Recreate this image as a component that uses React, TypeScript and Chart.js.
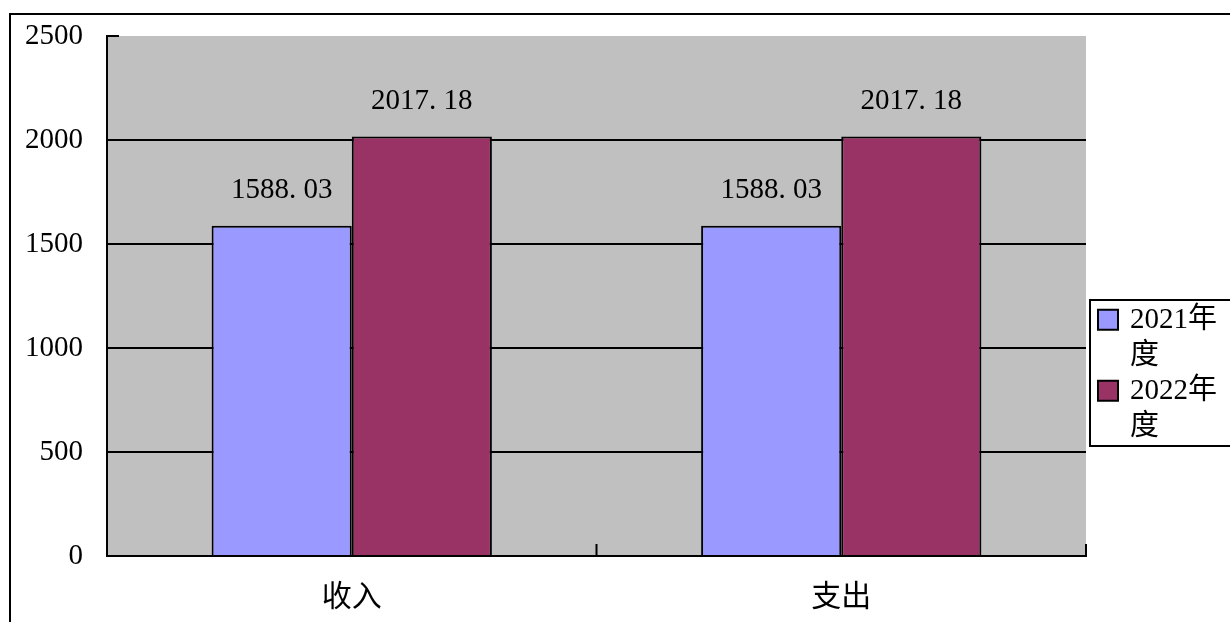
import React, { useEffect, useRef } from 'react';
import { Chart, registerables } from 'chart.js';

Chart.register(...registerables);

const categories = ['收入', '支出'];
const seriesLabels = ['2021年度', '2022年度'];
const values2021 = [1588.03, 1588.03];
const values2022 = [2017.18, 2017.18];
const yTickValues = [0, 500, 1000, 1500, 2000, 2500];
const seriesColors = ['#9999FF', '#993366'];

const FONT = '"Liberation Serif", "Noto Sans CJK SC", serif';

const framePlugin = {
  id: 'frame',
  beforeDraw(chart: any) {
    const { ctx, chartArea, width, height } = chart;
    ctx.save();
    ctx.fillStyle = '#ffffff';
    ctx.fillRect(0, 0, width, height);
    ctx.strokeStyle = '#000';
    ctx.lineWidth = 2;
    ctx.strokeRect(10, 14, width + 20, height + 20);
    ctx.fillStyle = '#C0C0C0';
    ctx.fillRect(chartArea.left, chartArea.top, chartArea.right - chartArea.left, chartArea.bottom - chartArea.top);
    ctx.restore();
  },
  afterDraw(chart: any) {
    const { ctx, chartArea } = chart;
    const xs = chart.scales.x;
    const ys = chart.scales.y;
    ctx.save();
    ctx.strokeStyle = '#000';
    ctx.lineWidth = 2;
    ys.ticks.forEach((t: any) => {
      const y = ys.getPixelForValue(t.value);
      ctx.beginPath();
      ctx.moveTo(chartArea.left, y);
      ctx.lineTo(chartArea.left + 12, y);
      ctx.stroke();
    });
    const n = categories.length;
    for (let i = 0; i <= n; i++) {
      const x = xs.getPixelForValue(i - 0.5);
      ctx.beginPath();
      ctx.moveTo(x, chartArea.bottom);
      ctx.lineTo(x, chartArea.bottom - 12);
      ctx.stroke();
    }
    // legend
    const lx = 1090;
    const ly = 300;
    const lineH = 35.5;
    ctx.font = `29px ${FONT}`;
    ctx.textBaseline = 'middle';
    ctx.textAlign = 'left';
    const maxW = 98;
    let totalLines = 0;
    const wrapped = chart.data.datasets.map((ds: any) => {
      const lines: string[] = [];
      let cur = '';
      for (const ch of String(ds.label)) {
        if (ctx.measureText(cur + ch).width > maxW && cur) {
          lines.push(cur);
          cur = ch;
        } else cur += ch;
      }
      if (cur) lines.push(cur);
      totalLines += lines.length;
      return lines;
    });
    const boxH = totalLines * lineH + 4;
    ctx.strokeRect(lx, ly, 200, boxH);
    let cy = ly + 2 + lineH / 2;
    chart.data.datasets.forEach((ds: any, i: number) => {
      ctx.fillStyle = ds.backgroundColor;
      ctx.fillRect(lx + 8, cy - 10, 20, 20);
      ctx.strokeStyle = '#000';
      ctx.lineWidth = 2;
      ctx.strokeRect(lx + 8, cy - 10, 20, 20);
      ctx.fillStyle = '#000';
      wrapped[i].forEach((line: string) => {
        ctx.fillText(line, lx + 40, cy + 1);
        cy += lineH;
      });
    });
    ctx.restore();
  },
};

const valueLabelPlugin = {
  id: 'valueLabels',
  afterDatasetsDraw(chart: any) {
    const { ctx } = chart;
    ctx.save();
    ctx.font = `29px ${FONT}`;
    ctx.fillStyle = '#000';
    ctx.textAlign = 'center';
    ctx.textBaseline = 'middle';
    chart.data.datasets.forEach((ds: any, di: number) => {
      const meta = chart.getDatasetMeta(di);
      meta.data.forEach((el: any, i: number) => {
        const txt = Number(ds.data[i]).toFixed(2).replace('.', '. ');
        ctx.fillText(txt, el.x, el.y - 35);
      });
    });
    ctx.restore();
  },
};

export default function App() {
  const ref = useRef<HTMLCanvasElement>(null);
  useEffect(() => {
    document.body.style.margin = '0';
    const canvas = ref.current!;
    const chart = new Chart(canvas, {
      type: 'bar',
      data: {
        labels: categories,
        datasets: [
          {
            label: seriesLabels[0],
            data: values2021,
            backgroundColor: seriesColors[0],
            borderColor: '#000',
            borderWidth: 2,
            categoryPercentage: 0.5726,
            barPercentage: 1,
          },
          {
            label: seriesLabels[1],
            data: values2022,
            backgroundColor: seriesColors[1],
            borderColor: '#000',
            borderWidth: 2,
            categoryPercentage: 0.5726,
            barPercentage: 1,
          },
        ],
      },
      options: {
        responsive: false,
        animation: false,
        devicePixelRatio: 1,
        layout: { padding: { left: 0, top: 36, right: 144, bottom: 0 } },
        plugins: {
          legend: { display: false },
          tooltip: { enabled: false },
          title: { display: false },
        },
        scales: {
          x: {
            grid: { display: false, drawTicks: false },
            border: { display: true, color: '#000', width: 2 },
            ticks: {
              color: '#000',
              font: { family: FONT, size: 30 },
              padding: 24,
            },
            afterFit(scale: any) {
              scale.height = 66;
            },
          },
          y: {
            min: 0,
            max: 2500,
            afterBuildTicks(scale: any) {
              scale.ticks = yTickValues.map((v) => ({ value: v }));
            },
            grid: {
              drawTicks: false,
              color: (c: any) =>
                c.tick && c.tick.value > 0 && c.tick.value < 2500 ? '#000' : 'rgba(0,0,0,0)',
              lineWidth: 2,
            },
            border: { display: true, color: '#000', width: 2 },
            ticks: {
              color: '#000',
              font: { family: FONT, size: 29, lineHeight: 1 },
              padding: 24,
              callback: (v: any) => String(v),
            },
            afterFit(scale: any) {
              scale.width = 107;
              scale.paddingTop = 0;
              scale.paddingBottom = 0;
            },
          },
        },
      },
      plugins: [framePlugin, valueLabelPlugin],
    });
    return () => chart.destroy();
  }, []);
  return (
    <div style={{ width: 1230, height: 622 }}>
      <canvas ref={ref} width={1230} height={622} style={{ display: 'block' }} />
    </div>
  );
}
